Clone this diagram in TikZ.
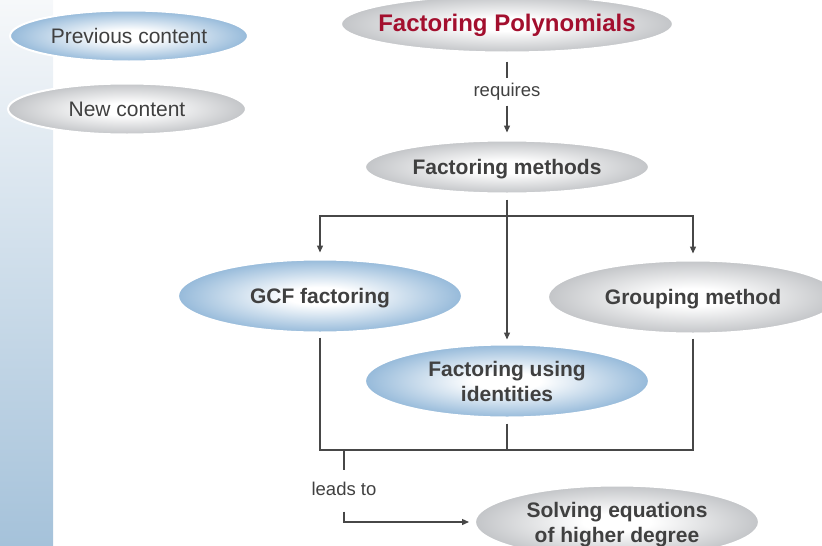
\documentclass[tikz,border=0pt]{standalone}
\usepackage{fontspec}
\setmainfont{Liberation Sans}
\usetikzlibrary{shapes.geometric,arrows.meta}

\definecolor{inkgray}{HTML}{404040}
\definecolor{linegray}{HTML}{474747}
\definecolor{titlered}{HTML}{A30F2E}
\definecolor{bluerim}{HTML}{96BADA}
\definecolor{grayrim}{HTML}{C3C5C8}
\definecolor{bartop}{HTML}{F6F8FA}
\definecolor{barbot}{HTML}{A5C2DA}

% soft oval fills: white core fading to the rim colour
\pgfdeclareradialshading{blueoval}{\pgfpoint{0bp}{0bp}}{color(0bp)=(white); color(6bp)=(white); color(25bp)=(bluerim); color(50bp)=(bluerim)}
\pgfdeclareradialshading{grayoval}{\pgfpoint{0bp}{0bp}}{color(0bp)=(white); color(6bp)=(white); color(25bp)=(grayrim); color(50bp)=(grayrim)}

% centred text that does not widen or heighten the oval
\newcommand\ovtext[1]{\raisebox{-8pt}[0pt][0pt]{\makebox[0pt]{\begin{tabular}{@{}c@{}}#1\end{tabular}}}}

\begin{document}
\begin{tikzpicture}[x=1pt,y=-1pt,
  oval/.style={ellipse, draw=white, line width=2pt, inner sep=0pt,
    minimum width=284pt, minimum height=73pt, text=inkgray,
    font=\bfseries\fontsize{21}{25}\selectfont},
  blueov/.style={oval, shading=blueoval},
  grayov/.style={oval, shading=grayoval},
  legend/.style={font=\mdseries\fontsize{21}{25}\selectfont, minimum width=238pt, minimum height=51pt},
  linklabel/.style={inner xsep=2pt, inner ysep=12pt, text height=13pt, text depth=4pt,
    text=inkgray, font=\fontsize{18.5}{22}\selectfont},
  conn/.style={draw=linegray, line width=1.3pt},
  tip/.style={-{Triangle[length=7pt,width=6pt]}}
]
\useasboundingbox (0,0) rectangle (822,546);
\clip (0,0) rectangle (822,546);

% side band
\shade[top color=bartop, bottom color=barbot, draw=none] (0,0) rectangle (53,546);

% legend
\node[blueov, legend] (prevc) at (129,36) {\ovtext{Previous content}};
\node[grayov, legend] (newc) at (127,109) {\ovtext{New content}};

% concept ovals
\node[grayov, minimum width=332pt, minimum height=57pt, text=titlered,
      font=\bfseries\fontsize{24}{28}\selectfont] (fp) at (507,24) {\ovtext{Factoring Polynomials}};
\node[grayov, minimum height=53pt] (fm) at (507,167) {\ovtext{Factoring methods}};
\node[blueov] (gcf) at (320,296) {\ovtext{GCF factoring}};
\node[grayov, minimum width=290pt] (grp) at (693,297) {\ovtext{Grouping method}};
\node[blueov] (fid) at (507,381) {\ovtext{Factoring using\\identities}};
\node[grayov] (solve) at (617,522) {\ovtext{Solving equations\\of higher degree}};

% link labels
\node[linklabel, inner ysep=5pt] (req) at (507,92) {requires};
\node[linklabel] (leads) at (344,491) {leads to};

% connectors
\draw[conn, shorten <=8pt] (fp.south) -- (req.north);
\draw[conn, tip, shorten >=7pt] (req.south) -- (fm.north);

\coordinate (split) at (507,216);
\draw[conn, tip, shorten <=5pt, shorten >=4pt] (fm.south) -- (fid.north);
\draw[conn, tip, shorten >=6pt] (split) -| (gcf.north);
\draw[conn, tip, shorten >=6pt] (split) -| (grp.north);

\coordinate (merge) at (507,450);
\draw[conn, shorten <=4pt] (gcf.south) |- (merge);
\draw[conn, shorten <=4pt] (grp.south) |- (merge);
\draw[conn, shorten <=5pt] (fid.south) -- (merge);

\coordinate (lead) at (344,450);
\draw[conn] (lead) -- (leads.north);
\draw[conn, tip, shorten >=5pt] (leads.south) |- (solve.west);
\end{tikzpicture}
\end{document}
